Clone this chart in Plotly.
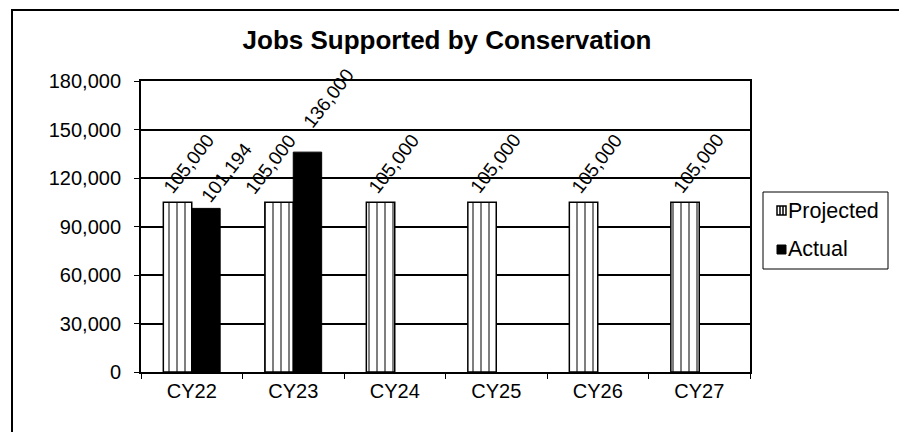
import plotly.graph_objects as go

categories = ["CY22", "CY23", "CY24", "CY25", "CY26", "CY27"]
projected = [105000, 105000, 105000, 105000, 105000, 105000]
actual = [101194, 136000, None, None, None, None]
y_ticks = [0, 30000, 60000, 90000, 120000, 150000, 180000]

# label nudges (pixels, relative to category centre) - styling only
proj_label_dx = [-3, -23, -1, -1, -1, -1]
proj_label_dy = [39, 38, 39, 39, 39, 39]
act_label_dx = [35, 35, 0, 0, 0, 0]
act_label_dy = [36, 54, 0, 0, 0, 0]

def fmt(v):
    return "" if v is None else f"{v:,}"

W, H = 899, 432
L, R, T, B = 141, 750, 81, 372
pw = R - L
ph = B - T
FONT = "Liberation Sans, Arial"

def px(x):
    return (x - L) / pw

def py(y):
    return (B - y) / ph

fig = go.Figure()
fig.add_trace(go.Bar(
    name="Projected", x=categories, y=projected,
    marker=dict(color="white", line=dict(color="black", width=1.5),
                pattern=dict(shape="|", fgcolor="black", bgcolor="white", size=8, solidity=0.25)),
    cliponaxis=False, showlegend=False,
))
fig.add_trace(go.Bar(
    name="Actual", x=categories, y=actual,
    marker=dict(color="black", line=dict(color="black", width=1)),
    cliponaxis=False, showlegend=False,
))

# value labels
for c, v, dx, dy in zip(categories, projected, proj_label_dx, proj_label_dy):
    if v is not None:
        fig.add_annotation(x=c, y=v, text=fmt(v), textangle=-52, showarrow=False,
                           xanchor="center", yanchor="middle", xshift=dx, yshift=dy,
                           font=dict(family=FONT, size=19, color="black"))
for c, v, dx, dy in zip(categories, actual, act_label_dx, act_label_dy):
    if v is not None:
        fig.add_annotation(x=c, y=v, text=fmt(v), textangle=-52, showarrow=False,
                           xanchor="center", yanchor="middle", xshift=dx, yshift=dy,
                           font=dict(family=FONT, size=19, color="black"))

# outer border (clipped at the right and bottom)
fig.add_shape(type="rect", xref="paper", yref="paper",
              x0=px(12), x1=2.0, y0=-1.0, y1=py(10),
              line=dict(color="black", width=2), fillcolor="rgba(0,0,0,0)", layer="below")

# legend box
fig.add_shape(type="rect", xref="paper", yref="paper",
              x0=px(763), x1=px(888), y0=py(269), y1=py(192),
              line=dict(color="black", width=1), fillcolor="white")
# projected symbol
fig.add_shape(type="rect", xref="paper", yref="paper",
              x0=px(777), x1=px(786), y0=py(215), y1=py(206),
              line=dict(color="black", width=1.5), fillcolor="white")
for xx in (780, 783):
    fig.add_shape(type="line", xref="paper", yref="paper",
                  x0=px(xx), x1=px(xx), y0=py(215), y1=py(206),
                  line=dict(color="black", width=1.5))
# actual symbol
fig.add_shape(type="rect", xref="paper", yref="paper",
              x0=px(777), x1=px(786), y0=py(254), y1=py(245),
              line=dict(color="black", width=1), fillcolor="black")
for name, yy in (("Projected", 211), ("Actual", 249)):
    fig.add_annotation(xref="paper", yref="paper", x=px(786), y=py(yy), text=name,
                       showarrow=False, xanchor="left", yanchor="middle",
                       font=dict(family=FONT, size=21.5, color="black"))

fig.update_layout(
    width=W, height=H,
    margin=dict(l=L, r=W - R, t=T, b=H - B, pad=0),
    paper_bgcolor="white", plot_bgcolor="white",
    barmode="group", bargap=0.44, bargroupgap=0,
    font=dict(family=FONT, size=20, color="black"),
    title=dict(text="<b>Jobs Supported by Conservation</b>", x=447 / W, xanchor="center",
               y=1 - 40 / H, yanchor="middle", font=dict(size=26, color="black")),
    showlegend=False,
)
fig.update_xaxes(
    showline=True, linecolor="black", linewidth=2, mirror=True,
    ticks="outside", ticklen=5, tickcolor="black", tickson="boundaries",
    showgrid=False, tickfont=dict(size=20),
)
fig.update_yaxes(
    range=[0, 180000], tickvals=y_ticks, ticktext=[f"{v:,}" for v in y_ticks],
    showline=True, linecolor="black", linewidth=2, mirror=True,
    ticks="outside", ticklen=5, tickcolor="black", ticklabelstandoff=9,
    showgrid=True, gridcolor="black", gridwidth=1.5, zeroline=False,
    tickfont=dict(size=20),
)

fig.write_html("out.html", config={"displayModeBar": False},
               post_script="document.body.style.margin='0';document.body.style.padding='0';")
